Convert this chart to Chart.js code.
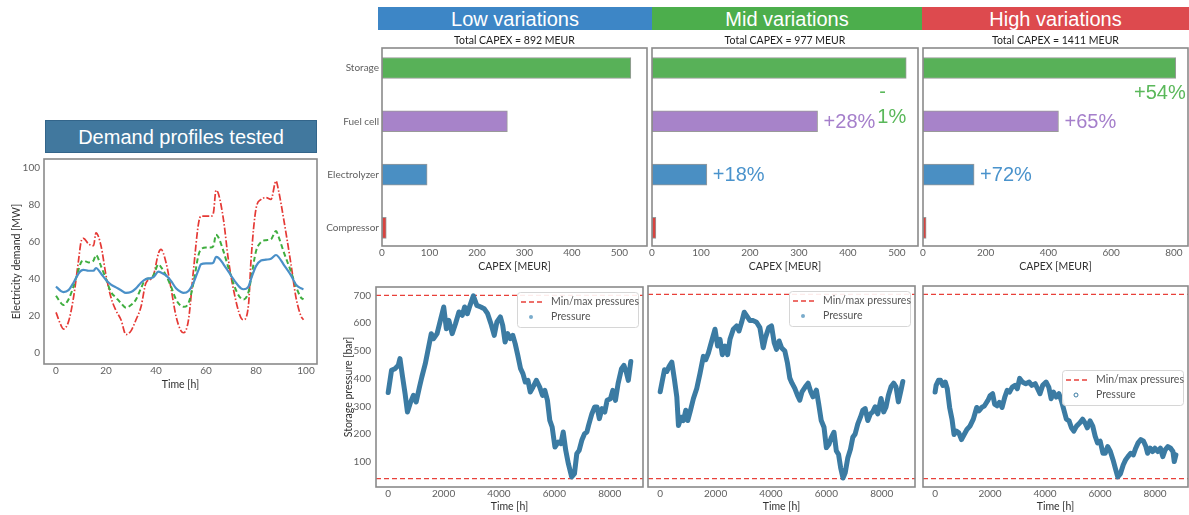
<!DOCTYPE html>
<html>
<head>
<meta charset="utf-8">
<script src="https://cdn.jsdelivr.net/npm/chart.js@4/dist/chart.umd.min.js"></script>
<style>
  html, body { margin: 0; padding: 0; background: #fff; }
  body { position: relative; width: 1189px; height: 515px; overflow: hidden;
         font-family: "Liberation Sans", Arial, sans-serif; }
  .hdr { position: absolute; color: #fff; font-size: 20px; text-align: center; white-space: nowrap; }
  canvas { position: absolute; }
</style>
</head>
<body>
<script>
// ---------- Demand profiles (hourly electricity demand, MW) ----------
const demandHours = [0,2,3,5,7,9,10,11,13,15,16,18,20,22,24,26,28,30,32,34,36,38,39,41,42,44,46,48,50,51,53,55,57,58,60,62,63,64,65,67,69,72,74,75,77,78,80,82,84,86,88,89,91,94,96,98,99];
const demandLow  = [36,33.5,33,34,38,43,44.5,45,44.5,44.5,46,43,39.5,37,35.5,34,32.5,33,35,38,40,40.5,41,44,43.5,42,39,35,33,32.5,33.5,38,45,48,48.5,48.5,49,52,51.5,48,44,38,35,34.5,36,40,47,50,50.5,51,53,52,48,42,37,35,34.5];
const demandMid  = [31,27,26,29,36,45,49,50,49,50,53,47,40,33,30,27,24.5,26,29,35,40,40.5,42,48,46.5,42,36,29,25.5,25,27,38,53,56,57,57,58,64,62.5,55,46,34,29.5,29,33,40,55,60,61,61.5,66,63,55,44,36,30,29];
const demandHigh = [22,15,13,17,30,50,60,62,59,58,65,58,42,30,23,18,10,12,18,25,38,40,42,54,56,49,35,20,12,11,18,45,70,74,74,74,76,88,86,72,50,28,19,18,26,50,78,83,84,83,93,88,73,48,30,20,18];
const demandXTicks = [0,20,40,60,80,100];
const demandYTicks = [0,20,40,60,80,100];

// ---------- CAPEX per component (MEUR) ----------
const scenarios  = ['Low variations', 'Mid variations', 'High variations'];
const components = ['Storage', 'Fuel cell', 'Electrolyzer', 'Compressor'];
const capexLow   = [524, 264, 95, 9];
const capexMid   = [519, 338, 112, 8];
const capexHigh  = [806, 432, 163, 10];
const capexTotal = [892, 977, 1411];
const changeMid  = ['-\n1%', '+28%', '+18%', ''];
const changeHigh = ['+54%', '+65%', '+72%', ''];
const capexTicksLow  = [0,100,200,300,400,500];
const capexTicksHigh = [0,200,400,600,800];

// ---------- Storage pressure over the year (bar) ----------
const pressureBounds = [40, 700];
const timeLow = [0,120,245,365,425,520,610,695,790,910,1010,1130,1215,1340,1460,1555,1640,1765,1885,2005,2100,2190,2310,2430,2555,2675,2760,2860,2955,3075,3200,3345,3465,3590,3710,3830,3925,4050,4135,4220,4315,4415,4500,4585,4680,4780,4865,4950,5045,5130,5230,5350,5470,5570,5655,5750,5835,5920,6020,6140,6235,6320,6410,6505,6625,6725,6810,6895,6990,7090,7175,7235,7355,7455,7540,7625,7720,7820,7905,8025,8110,8205,8300,8425,8510,8595,8670,8760];
const pressureLow = [350,430,436,448,472,406,346,280,310,340,316,370,406,454,514,562,544,562,610,658,580,610,562,598,640,628,658,634,664,698,664,658,652,634,598,556,604,622,592,532,562,544,556,526,484,436,418,388,394,352,370,394,370,340,358,322,250,226,154,172,166,208,142,94,46,58,130,142,178,202,208,232,274,298,298,256,292,280,322,328,358,322,382,436,448,424,394,462];
const timeMid = [0,84,156,240,324,420,516,600,660,756,840,924,995,1080,1200,1320,1440,1560,1643,1740,1860,1980,2075,2160,2243,2340,2435,2520,2640,2760,2845,2940,3035,3120,3240,3360,3480,3600,3720,3800,3920,4020,4115,4200,4295,4380,4500,4595,4680,4760,4860,4955,5040,5120,5240,5340,5435,5515,5640,5720,5815,5915,6000,6095,6180,6275,6360,6440,6515,6600,6680,6775,6870,6955,7040,7135,7230,7315,7400,7495,7590,7675,7760,7855,7975,8070,8155,8240,8335,8430,8515,8600,8695,8760];
const pressureMid = [351,394,430,424,442,457,394,333,230,260,248,285,248,279,327,363,418,478,466,490,533,575,515,539,484,515,484,539,575,587,569,600,636,624,606,606,600,581,509,545,581,587,527,503,533,509,497,454,400,382,363,339,321,351,369,382,351,333,357,309,248,224,151,163,188,206,139,127,79,42,61,115,145,188,200,236,260,285,291,248,272,279,297,272,327,279,297,339,369,382,369,315,357,388];
const timeHigh = [0,37,123,197,283,369,443,529,615,689,775,862,960,1058,1157,1268,1391,1514,1600,1698,1797,1920,2006,2092,2166,2252,2338,2437,2535,2622,2708,2806,2905,2991,3077,3175,3298,3422,3520,3643,3729,3815,3914,4037,4135,4222,4308,4406,4505,4591,4677,4775,4874,4960,5046,5145,5268,5366,5452,5538,5637,5735,5822,5908,6006,6105,6191,6277,6376,6474,6560,6646,6745,6843,6929,7015,7114,7212,7298,7385,7483,7582,7668,7729,7828,7914,8000,8098,8197,8283,8369,8468,8566,8652,8700,8760];
const pressureHigh = [350,374,392,392,374,386,362,295,253,198,210,204,180,198,216,228,253,295,283,295,301,320,338,344,307,301,313,295,332,356,350,368,374,362,399,386,380,386,374,380,362,344,374,386,368,326,350,332,344,320,289,253,247,222,210,228,240,253,240,222,247,228,192,168,174,131,131,155,137,107,76,46,58,89,107,119,131,125,149,168,180,174,155,131,149,137,149,137,149,119,143,155,149,137,101,125];
const timeTicks = [0,2000,4000,6000,8000];
const pressureTicks = [100,200,300,400,500,600,700];

// ---------- shared look ----------
const TEXT_FONT = 'Lato, "Open Sans", sans-serif';
const BIG_FONT = '"Liberation Sans", Arial, sans-serif';
const componentColors = ['#58b158', '#a783c9', '#4a8fc3', '#d9433f'];
const changeColors = ['#5ab85a', '#a57fcb', '#4a93cc', '#d9433f'];
const PRESSURE_COLOR = '#3b7ba3';
const LIMIT_COLOR = '#e8403a';

Chart.defaults.font.family = TEXT_FONT;
Chart.defaults.font.size = 10;
Chart.defaults.color = '#606060';
Chart.defaults.animation = false;
Chart.defaults.responsive = false;
Chart.defaults.plugins.legend.display = false;
Chart.defaults.plugins.tooltip.enabled = false;

// ---------- helpers ----------
function header(text, x, y, w, h, bg, extra) {
  const d = document.createElement('div');
  d.className = 'hdr';
  d.textContent = text;
  Object.assign(d.style, { left: x + 'px', top: y + 'px', width: w + 'px', height: h + 'px',
    lineHeight: (h + 2) + 'px', background: bg }, extra || {});
  document.body.appendChild(d);
}
function addCanvas(box) {
  const c = document.createElement('canvas');
  c.width = box.w; c.height = box.h;
  c.style.left = box.x + 'px'; c.style.top = box.y + 'px';
  document.body.appendChild(c);
  return c;
}
const fixedTicks = vals => s => { s.ticks = vals.map(v => ({ value: v })); };
function xAxis(box, area, opt) {
  return {
    type: 'linear', position: 'bottom', min: opt.min, max: opt.max, offset: false,
    afterBuildTicks: fixedTicks(opt.ticks),
    afterFit: s => { s.height = box.y + box.h - area.b; },
    grid: { display: false, drawTicks: false }, border: { display: false },
    ticks: { padding: 1, maxRotation: 0, autoSkip: false, callback: v => String(v) },
    title: { display: true, text: opt.title, color: '#303030', font: { size: 10.5 },
             padding: { top: 0, bottom: opt.titlePad } }
  };
}
function yAxis(box, area, opt) {
  return {
    type: 'linear', position: 'left', min: opt.min, max: opt.max, reverse: !!opt.reverse, offset: false,
    afterBuildTicks: fixedTicks(opt.ticks),
    afterFit: s => { s.width = area.l - box.x; },
    grid: { display: false, drawTicks: false }, border: { display: false },
    ticks: { display: opt.showTicks !== false, padding: opt.tickPad || 4, autoSkip: false,
             callback: opt.label || (v => String(v)) },
    title: { display: !!opt.title, text: opt.title || '', color: '#303030', font: { size: 10.5 },
             padding: { top: opt.titlePad || 0, bottom: 0 } }
  };
}
function layoutPad(box, area) {
  return { padding: { left: 0, top: area.t - box.y, right: box.x + box.w - area.r, bottom: 0 } };
}

// frame around each plotting area
const framePlugin = {
  id: 'frame',
  afterDraw(chart) {
    const { ctx, chartArea: a } = chart;
    ctx.save();
    ctx.strokeStyle = '#8a8a8a';
    ctx.lineWidth = 1.6;
    ctx.strokeRect(a.left, a.top, a.right - a.left, a.bottom - a.top);
    ctx.restore();
  }
};

// "Total CAPEX = ..." caption above a bar panel
const totalCaption = {
  id: 'totalCaption',
  afterDraw(chart, args, opts) {
    if (opts.total == null) return;
    const { ctx, chartArea: a } = chart;
    ctx.save();
    ctx.font = '10.5px ' + TEXT_FONT;
    ctx.fillStyle = '#202020';
    ctx.textAlign = 'center';
    ctx.textBaseline = 'middle';
    ctx.fillText('Total CAPEX = ' + opts.total + ' MEUR', (a.left + a.right) / 2, a.top - 7);
    ctx.restore();
  }
};

// relative change vs. the low-variation case, next to each bar
const changeLabels = {
  id: 'changeLabels',
  afterDatasetsDraw(chart, args, opts) {
    if (!opts.texts) return;
    const meta = chart.getDatasetMeta(0);
    const ctx = chart.ctx;
    ctx.save();
    ctx.font = '20px ' + BIG_FONT;
    ctx.textBaseline = 'middle';
    opts.texts.forEach((t, i) => {
      if (!t) return;
      const bar = meta.data[i];
      ctx.fillStyle = changeColors[i];
      const lines = t.split('\n');
      if (i === 0) {
        if (lines.length > 1) {
          ctx.textAlign = 'left';
          ctx.fillText(lines[0], bar.x - 27, bar.y + 24);
          ctx.textAlign = 'right';
          ctx.fillText(lines[1], bar.x, bar.y + 49);
        } else {
          ctx.textAlign = 'right';
          ctx.fillText(lines[0], bar.x + 10, bar.y + 25);
        }
      } else {
        ctx.textAlign = 'left';
        ctx.fillText(t, bar.x + 6, bar.y + 1);
      }
    });
    ctx.restore();
  }
};

// boxed legend inside the pressure panels
const pressureLegend = {
  id: 'pressureLegend',
  afterDraw(chart, args, opts) {
    if (!opts.show) return;
    const { ctx, chartArea: a } = chart;
    const w = 121, h = 35;
    const bx = a.right - 5 - w;
    const by = opts.middle ? Math.round((a.top + a.bottom) / 2 - h / 2 + 1) : a.top + 5;
    const p = chart.data.datasets[0], lim = chart.data.datasets[1];
    ctx.save();
    ctx.beginPath();
    ctx.roundRect(bx + 0.5, by + 0.5, w, h, 3);
    ctx.fillStyle = 'rgba(255,255,255,0.9)';
    ctx.fill();
    ctx.strokeStyle = '#d6d6d6';
    ctx.lineWidth = 1;
    ctx.stroke();
    ctx.strokeStyle = lim.borderColor;
    ctx.lineWidth = lim.borderWidth;
    ctx.setLineDash(lim.borderDash);
    ctx.beginPath(); ctx.moveTo(bx + 4, by + 10); ctx.lineTo(bx + 25, by + 10); ctx.stroke();
    ctx.setLineDash([]);
    ctx.beginPath();
    ctx.arc(bx + 14, by + 25, 2, 0, Math.PI * 2);
    if (opts.hollow) { ctx.strokeStyle = p.borderColor; ctx.lineWidth = 1; ctx.stroke(); }
    else { ctx.fillStyle = '#7aaccc'; ctx.fill(); }
    ctx.fillStyle = '#555';
    ctx.font = '10.5px ' + TEXT_FONT;
    ctx.textAlign = 'left';
    ctx.textBaseline = 'middle';
    ctx.fillText(lim.label, bx + 34, by + 10);
    ctx.fillText(p.label, bx + 34, by + 25);
    ctx.restore();
  }
};

// ---------- headers ----------
header('Demand profiles tested', 45, 120, 272, 33, '#41789e', { boxSizing: 'border-box', border: '1px solid #33658a', lineHeight: '32px' });
header(scenarios[0], 378, 7, 274, 23, '#3d86c6');
header(scenarios[1], 652, 7, 270, 23, '#4cae4c');
header(scenarios[2], 922, 7, 267, 23, '#dd4a4e');

// ---------- demand chart ----------
(function () {
  const box = { x: 0, y: 140, w: 330, h: 260 };
  const area = { l: 44, t: 159, r: 317, b: 364 };
  const pts = vals => demandHours.map((h, i) => ({ x: h, y: vals[i] }));
  const common = { showLine: true, pointRadius: 0, cubicInterpolationMode: 'monotone', fill: false };
  new Chart(addCanvas(box), {
    type: 'scatter',
    data: { datasets: [
      Object.assign({ label: 'Low', data: pts(demandLow), borderColor: '#4a90c8', borderWidth: 2.2 }, common),
      Object.assign({ label: 'Mid', data: pts(demandMid), borderColor: '#3fae3f', borderWidth: 2, borderDash: [5, 3] }, common),
      Object.assign({ label: 'High', data: pts(demandHigh), borderColor: '#e53935', borderWidth: 1.7, borderDash: [7, 2, 1.5, 2] }, common)
    ] },
    options: {
      layout: layoutPad(box, area),
      scales: {
        x: xAxis(box, area, { min: -4.8, max: 104.4, ticks: demandXTicks, title: 'Time [h]', titlePad: 9 }),
        y: yAxis(box, area, { min: -5.9, max: 104.9, ticks: demandYTicks, title: 'Electricity demand [MW]', titlePad: 10 })
      }
    },
    plugins: [framePlugin]
  });
})();

// ---------- CAPEX bar charts ----------
function capexChart(box, area, values, xmax, ticks, total, changes, showLabels) {
  new Chart(addCanvas(box), {
    type: 'bar',
    data: { datasets: [{
      label: 'CAPEX',
      data: components.map((c, i) => ({ x: values[i], y: i })),
      backgroundColor: componentColors,
      borderColor: 'rgba(70,70,70,0.55)',
      borderWidth: 1,
      borderSkipped: false,
      barThickness: 21
    }] },
    options: {
      indexAxis: 'y',
      layout: layoutPad(box, area),
      scales: {
        x: xAxis(box, area, { min: 0, max: xmax, ticks: ticks, title: 'CAPEX [MEUR]', titlePad: 7 }),
        y: yAxis(box, area, { min: -0.375, max: 3.34, reverse: true, ticks: [0, 1, 2, 3],
                              showTicks: showLabels, tickPad: 3, label: v => components[v] })
      },
      plugins: { totalCaption: { total: total }, changeLabels: { texts: changes } }
    },
    plugins: [framePlugin, totalCaption, changeLabels]
  });
}
capexChart({ x: 322, y: 30, w: 328, h: 250 }, { l: 382, t: 48, r: 647, b: 246 }, capexLow, 558, capexTicksLow, capexTotal[0], null, true);
capexChart({ x: 638, y: 30, w: 282, h: 250 }, { l: 652, t: 48, r: 918, b: 246 }, capexMid, 543, capexTicksLow, capexTotal[1], changeMid, false);
capexChart({ x: 908, y: 30, w: 281, h: 250 }, { l: 923, t: 48, r: 1188, b: 246 }, capexHigh, 845, capexTicksHigh, capexTotal[2], changeHigh, false);

// ---------- storage pressure charts ----------
function pressureChart(box, area, times, values, showY, legendOpts) {
  const xmin = -440, xmax = 9200;
  const limit = v => ({ label: 'Min/max pressures', data: [{ x: xmin, y: v }, { x: xmax, y: v }],
    showLine: true, pointRadius: 0, borderColor: LIMIT_COLOR, borderWidth: 1.4, borderDash: [5, 3] });
  new Chart(addCanvas(box), {
    type: 'scatter',
    data: { datasets: [
      { label: 'Pressure', data: times.map((t, i) => ({ x: t, y: values[i] })), showLine: true, pointRadius: 0,
        borderColor: PRESSURE_COLOR, borderWidth: 5, borderJoinStyle: 'round', borderCapStyle: 'round' },
      limit(pressureBounds[1]),
      limit(pressureBounds[0])
    ] },
    options: {
      layout: layoutPad(box, area),
      scales: {
        x: xAxis(box, area, { min: xmin, max: xmax, ticks: timeTicks, title: 'Time [h]', titlePad: 2 }),
        y: yAxis(box, area, { min: 10, max: 730, ticks: pressureTicks, showTicks: showY,
                              title: showY ? 'Storage pressure [bar]' : '', titlePad: 12, tickPad: 5 })
      },
      plugins: { pressureLegend: legendOpts }
    },
    plugins: [framePlugin, pressureLegend]
  });
}
pressureChart({ x: 330, y: 268, w: 315, h: 247 }, { l: 376, t: 287, r: 643, b: 487 }, timeLow, pressureLow, true, { show: true });
pressureChart({ x: 636, y: 268, w: 281, h: 247 }, { l: 648, t: 286, r: 915, b: 487 }, timeMid, pressureMid, false, { show: true });
pressureChart({ x: 908, y: 268, w: 281, h: 247 }, { l: 923, t: 286, r: 1188, b: 487 }, timeHigh, pressureHigh, false, { show: true, middle: true, hollow: true });
</script>
</body>
</html>
